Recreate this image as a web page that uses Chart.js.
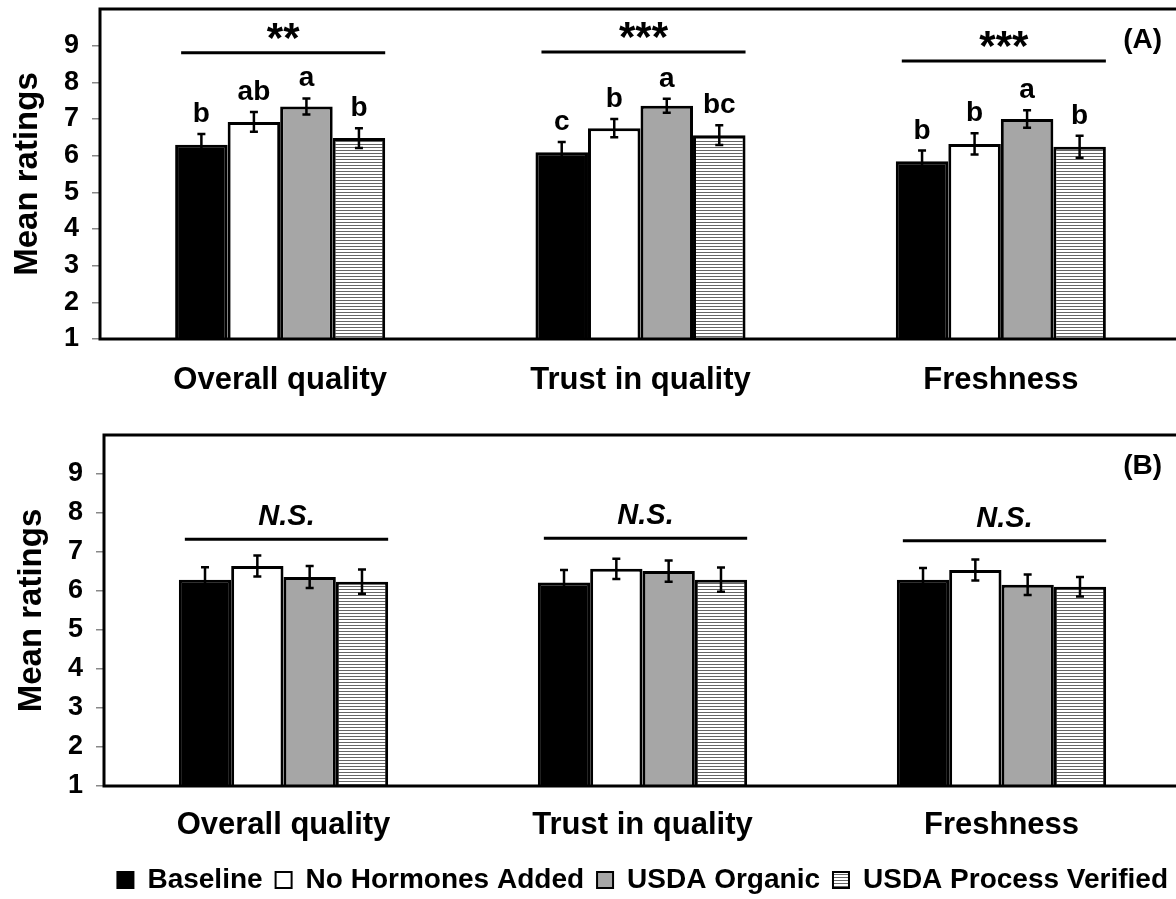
<!DOCTYPE html>
<html>
<head>
<meta charset="utf-8">
<script src="https://cdn.jsdelivr.net/npm/chart.js@4.4.0/dist/chart.umd.min.js"></script>
<style>
  html, body { margin: 0; padding: 0; background: #fff; overflow: hidden; width: 1176px; height: 899px; }
  #painel-a { position: absolute; left: 0; top: 0; }
  #painel-b { position: absolute; left: 0; top: 400px; }
</style>
</head>
<body>
<div id="painel-a"><canvas id="grafico-a" width="1184" height="400"></canvas></div>
<div id="painel-b"><canvas id="grafico-b" width="1184" height="504"></canvas></div>
<script>
const categorias = ['Overall quality', 'Trust in quality', 'Freshness'];
const nomesSeries = ['Baseline', 'No Hormones Added', 'USDA Organic', 'USDA Process Verified'];
const ticksY = [1, 2, 3, 4, 5, 6, 7, 8, 9];

// Painel A - médias, erros e letras
const baselineA = [6.30, 6.09, 5.85];
const semHormoniosA = [6.92, 6.75, 6.32];
const organicoA = [7.34, 7.36, 7.00];
const processoA = [6.48, 6.56, 6.24];
const erroBaselineA = [0.29, 0.28, 0.29];
const erroSemHormoniosA = [0.27, 0.25, 0.29];
const erroOrganicoA = [0.22, 0.19, 0.24];
const erroProcessoA = [0.27, 0.27, 0.30];
const letrasBaselineA = ['b', 'c', 'b'];
const letrasSemHormoniosA = ['ab', 'b', 'b'];
const letrasOrganicoA = ['a', 'a', 'a'];
const letrasProcessoA = ['b', 'bc', 'b'];
const linhaSignifA = [8.81, 8.83, 8.58];
const textoSignifA = ['**', '***', '***'];

// Painel B
const baselineB = [6.29, 6.22, 6.29];
const semHormoniosB = [6.64, 6.57, 6.54];
const organicoB = [6.36, 6.51, 6.16];
const processoB = [6.24, 6.29, 6.11];
const erroBaselineB = [0.32, 0.32, 0.30];
const erroSemHormoniosB = [0.27, 0.26, 0.27];
const erroOrganicoB = [0.28, 0.27, 0.26];
const erroProcessoB = [0.31, 0.31, 0.25];
const linhaSignifB = [7.33, 7.35, 7.29];
const textoSignifB = ['N.S.', 'N.S.', 'N.S.'];

const FONTE = '"Liberation Sans", Arial, sans-serif';

// listras horizontais da série "USDA Process Verified"
function criarListras() {
  const c = document.createElement('canvas');
  c.width = 6; c.height = 3;
  const g = c.getContext('2d');
  g.fillStyle = '#ffffff';
  g.fillRect(0, 0, 6, 3);
  g.fillStyle = '#666666';
  g.fillRect(0, 0, 6, 1);
  return g.createPattern(c, 'repeat');
}
const listras = criarListras();
const cores = ['#000000', '#ffffff', '#a6a6a6', listras];

function montarDatasets(valores, erros, letras) {
  return valores.map((v, i) => ({
    label: nomesSeries[i],
    data: v,
    erros: erros[i],
    letras: letras ? letras[i] : null,
    backgroundColor: cores[i],
    borderColor: '#000',
    borderWidth: 3,
    borderSkipped: false,
    categoryPercentage: 0.583,
    barPercentage: 1.0
  }));
}

const pluginAnotacoes = {
  id: 'anotacoes',
  afterDatasetsDraw(chart, args, opts) {
    const ctx = chart.ctx;
    const escalaY = chart.scales.y;
    ctx.save();
    ctx.strokeStyle = '#000';
    ctx.fillStyle = '#000';
    chart.data.datasets.forEach((ds, i) => {
      const meta = chart.getDatasetMeta(i);
      meta.data.forEach((barra, j) => {
        const v = ds.data[j];
        const e = ds.erros[j];
        const yTopo = escalaY.getPixelForValue(v + e);
        const yBase = escalaY.getPixelForValue(v - e);
        ctx.lineWidth = 2.5;
        ctx.beginPath();
        ctx.moveTo(barra.x, yTopo); ctx.lineTo(barra.x, yBase);
        ctx.moveTo(barra.x - 4, yTopo); ctx.lineTo(barra.x + 4, yTopo);
        ctx.moveTo(barra.x - 4, yBase); ctx.lineTo(barra.x + 4, yBase);
        ctx.stroke();
        if (ds.letras) {
          ctx.font = 'bold 28px ' + FONTE;
          ctx.textAlign = 'center';
          ctx.textBaseline = 'alphabetic';
          ctx.fillText(ds.letras[j], barra.x, yTopo - 12);
        }
      });
    });

    // linha de significância sobre cada grupo
    const primeira = chart.getDatasetMeta(0);
    const ultima = chart.getDatasetMeta(chart.data.datasets.length - 1);
    opts.linhas.forEach((v, j) => {
      const b0 = primeira.data[j], b1 = ultima.data[j];
      const x0 = b0.x - b0.width / 2 + 6;
      const x1 = b1.x + b1.width / 2;
      const yl = escalaY.getPixelForValue(v);
      ctx.lineWidth = 3;
      ctx.beginPath();
      ctx.moveTo(x0, yl); ctx.lineTo(x1, yl);
      ctx.stroke();
      ctx.font = opts.fonte;
      ctx.textAlign = 'center';
      ctx.textBaseline = 'alphabetic';
      ctx.fillText(opts.textos[j], (x0 + x1) / 2, yl + opts.deslocTexto);
    });

    // moldura da área do gráfico
    const a = chart.chartArea;
    ctx.lineWidth = 3;
    ctx.strokeRect(a.left, a.top, a.right - a.left, a.bottom - a.top);

    // rótulo do painel
    ctx.font = 'bold 28px ' + FONTE;
    ctx.textAlign = 'right';
    ctx.textBaseline = 'middle';
    ctx.fillText(opts.painel, a.right - 19, a.top + opts.painelY);
    ctx.restore();
  }
};

function opcoesBase(padX, padTopo) {
  return {
    responsive: false,
    animation: false,
    layout: { padding: { top: padTopo, right: 3, left: padX, bottom: 0 } },
    plugins: {
      legend: { display: false },
      tooltip: { enabled: false }
    },
    scales: {
      x: {
        grid: { display: false, drawTicks: false },
        border: { display: false },
        ticks: { color: '#000', font: { family: FONTE, size: 31, weight: 'bold' }, padding: 23 },
        afterFit: s => { s.height = 61; }
      },
      y: {
        min: 1,
        max: 10,
        afterBuildTicks: s => { s.ticks = ticksY.map(v => ({ value: v })); },
        grid: { drawOnChartArea: false, color: '#888', lineWidth: 1.5, tickLength: 8 },
        border: { display: false },
        ticks: { color: '#000', font: { family: FONTE, size: 27, weight: 'bold' }, padding: 13 },
        title: {
          display: true,
          text: 'Mean ratings',
          color: '#000',
          font: { family: FONTE, size: 33, weight: 'bold' },
          padding: { top: 8, bottom: 0 }
        },
        afterFit: s => { s.width = 100; s.paddingTop = 0; s.paddingBottom = 0; }
      }
    }
  };
}

const opcoesA = opcoesBase(0, 9);
opcoesA.plugins.anotacoes = {
  linhas: linhaSignifA, textos: textoSignifA,
  fonte: 'bold 42px ' + FONTE, deslocTexto: -1,
  painel: '(A)', painelY: 31
};

new Chart(document.getElementById('grafico-a').getContext('2d'), {
  type: 'bar',
  data: {
    labels: categorias,
    datasets: montarDatasets(
      [baselineA, semHormoniosA, organicoA, processoA],
      [erroBaselineA, erroSemHormoniosA, erroOrganicoA, erroProcessoA],
      [letrasBaselineA, letrasSemHormoniosA, letrasOrganicoA, letrasProcessoA]
    )
  },
  options: opcoesA,
  plugins: [pluginAnotacoes]
});

const opcoesB = opcoesBase(4, 35);
opcoesB.scales.x.afterFit = s => { s.height = 67; };
opcoesB.scales.x.ticks.padding = 21;
opcoesB.plugins.legend = {
  display: true,
  position: 'bottom',
  align: 'end',
  labels: {
    color: '#000',
    font: { family: FONTE, size: 28, weight: 'bold' },
    boxWidth: 16,
    boxHeight: 16,
    padding: 13,
    generateLabels: chart => chart.data.datasets.map((ds, i) => ({
      text: ds.label,
      fillStyle: ds.backgroundColor,
      strokeStyle: '#000',
      lineWidth: 2,
      datasetIndex: i
    }))
  }
};
opcoesB.plugins.anotacoes = {
  linhas: linhaSignifB, textos: textoSignifB,
  fonte: 'italic bold 29px ' + FONTE, deslocTexto: -14,
  painel: '(B)', painelY: 31
};

new Chart(document.getElementById('grafico-b').getContext('2d'), {
  type: 'bar',
  data: {
    labels: categorias,
    datasets: montarDatasets(
      [baselineB, semHormoniosB, organicoB, processoB],
      [erroBaselineB, erroSemHormoniosB, erroOrganicoB, erroProcessoB],
      null
    )
  },
  options: opcoesB,
  plugins: [pluginAnotacoes]
});
</script>
</body>
</html>
